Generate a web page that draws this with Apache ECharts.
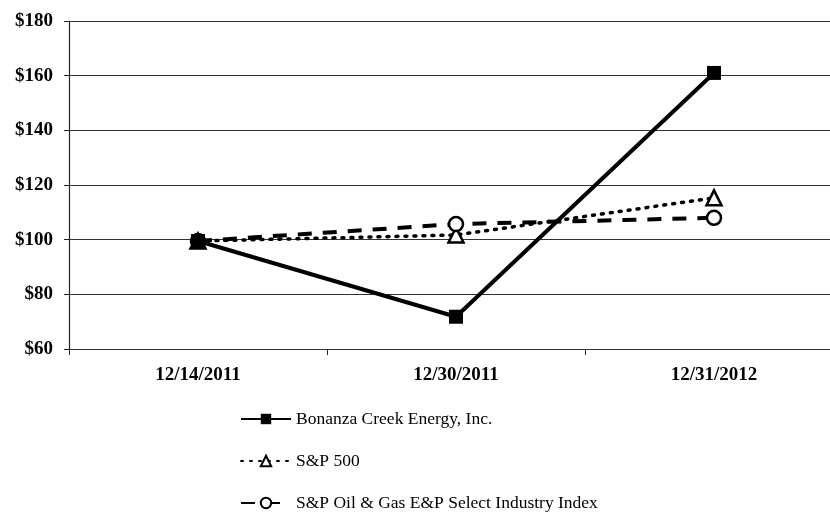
<!DOCTYPE html>
<html><head><meta charset="utf-8">
<script src="https://cdn.jsdelivr.net/npm/echarts@6/dist/echarts.min.js"></script>
<style>html,body{margin:0;padding:0;background:#fff;overflow:hidden}#c{width:850px;height:523px}</style>
</head><body><div id="c"></div>
<script>
const categories = ['12/14/2011', '12/30/2011', '12/31/2012'];
const bonanza = [99.5, 71.8, 161];
const sp500 = [99.5, 101.7, 115.3];
const oilGas = [99.5, 105.7, 108];
const yTicks = {min: 60, max: 180, interval: 20};

const chart = echarts.init(document.getElementById('c'), null, {renderer: 'canvas'});
const font = '"Liberation Serif", "Times New Roman", serif';
chart.setOption({
  animation: false,
  backgroundColor: '#fff',
  grid: {left: 69, top: 21, width: 774, height: 328, containLabel: false},
  xAxis: {
    type: 'category', data: categories, boundaryGap: true,
    axisLine: {show: false},
    axisTick: {show: true, length: 6, lineStyle: {color: '#222', width: 1}},
    axisLabel: {color: '#000', fontFamily: font, fontWeight: 'bold', fontSize: 19, margin: 17}
  },
  yAxis: {
    type: 'value', min: yTicks.min, max: yTicks.max, interval: yTicks.interval,
    axisLine: {show: true, lineStyle: {color: '#222', width: 1.2}},
    axisTick: {show: true, length: 5, lineStyle: {color: '#222'}},
    axisLabel: {color: '#000', fontFamily: font, fontWeight: 'bold', fontSize: 19, margin: 16,
      formatter: v => '$' + v},
    splitLine: {show: true, lineStyle: {color: '#333', width: 1}}
  },
  legend: {
    orient: 'vertical', left: 235, top: 405, itemGap: 24, itemWidth: 50, itemHeight: 13,
    textStyle: {color: '#000', fontFamily: font, fontSize: 17.5},
    data: ['Bonanza Creek Energy, Inc.', 'S&P 500', 'S&P Oil & Gas E&P Select Industry Index']
  },
  series: [
    {name: 'Bonanza Creek Energy, Inc.', type: 'line', data: bonanza, symbol: 'rect', symbolSize: 14,
      z: 5,
      lineStyle: {color: '#000', width: 4}, itemStyle: {color: '#000'}},
    {name: 'S&P 500', type: 'line', data: sp500, symbol: 'triangle', symbolSize: 15,
      lineStyle: {color: '#000', width: 3.5, type: [2, 7], cap: 'round'},
      itemStyle: {color: '#fff', borderColor: '#000', borderWidth: 2.5}},
    {name: 'S&P Oil & Gas E&P Select Industry Index', type: 'line', data: oilGas, symbol: 'circle', symbolSize: 14,
      lineStyle: {color: '#000', width: 4, type: [14, 11]},
      itemStyle: {color: '#fff', borderColor: '#000', borderWidth: 2.5}}
  ]
});
</script></body></html>
